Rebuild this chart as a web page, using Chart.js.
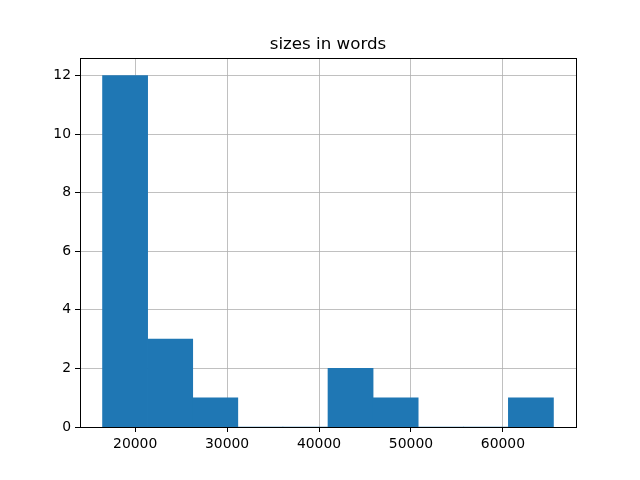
<!DOCTYPE html>
<html>
<head>
<meta charset="utf-8">
<script src="https://cdn.jsdelivr.net/npm/chart.js@4/dist/chart.umd.min.js"></script>
<style>
  html, body { margin: 0; padding: 0; background: #fff; }
  #wrap { width: 640px; height: 480px; }
</style>
</head>
<body>
<div id="wrap"><canvas id="hist" width="640" height="480"></canvas></div>
<script>
// histogram of document sizes
const binEdges = [16450, 21355, 26260, 31165, 36070, 40975, 45880, 50785, 55690, 60595, 65500];
const counts = [12, 3, 1, 0, 0, 2, 1, 0, 0, 1];
const xTicks = [20000, 30000, 40000, 50000, 60000];
const yTicks = [0, 2, 4, 6, 8, 10, 12];
const titleText = "sizes in words";

const barData = counts.map((c, i) => ({ x: (binEdges[i] + binEdges[i + 1]) / 2, y: c }));

const span = binEdges[binEdges.length - 1] - binEdges[0];
const xMin = binEdges[0] - span * 0.05;
const xMax = binEdges[binEdges.length - 1] + span * 0.05;
const yMax = Math.max(...counts) * 1.05;

const tickFont = { family: "DejaVu Sans", size: 13.9 };

// black frame around the plot area, like the axes spines
const frame = {
  id: "frame",
  afterDraw(chart) {
    const a = chart.chartArea;
    const ctx = chart.ctx;
    ctx.save();
    ctx.strokeStyle = "#000";
    ctx.lineWidth = 1;
    ctx.strokeRect(Math.round(a.left) + 0.5, Math.round(a.top) + 0.5,
      Math.round(a.right - a.left), Math.round(a.bottom - a.top));
    ctx.restore();
  }
};

new Chart(document.getElementById("hist").getContext("2d"), {
  type: "bar",
  data: {
    datasets: [{
      data: barData,
      backgroundColor: "#1f77b4",
      borderWidth: 0,
      barPercentage: 1,
      categoryPercentage: 1,
      grouped: false
    }]
  },
  options: {
    responsive: false,
    animation: false,
    layout: { padding: { left: 0, right: 64, top: 0, bottom: 0 } },
    plugins: {
      legend: { display: false },
      tooltip: { enabled: false },
      title: {
        display: true,
        fullSize: false,
        text: titleText,
        color: "#000",
        font: { family: "DejaVu Sans", size: 16.7, weight: "normal" },
        padding: { top: 35, bottom: 3 }
      }
    },
    scales: {
      x: {
        type: "linear",
        min: xMin,
        max: xMax,
        z: 1,
        offset: false,
        border: { display: false },
        grid: { offset: false, color: "#b0b0b0", lineWidth: 0.8, tickColor: "#000", tickLength: 5, tickWidth: 1 },
        ticks: {
          color: "#000",
          font: tickFont,
          padding: 4,
          maxRotation: 0,
          callback: v => String(v)
        },
        afterBuildTicks: s => { s.ticks = xTicks.map(v => ({ value: v })); },
        afterFit: s => { s.height = 53; }
      },
      y: {
        min: 0,
        max: yMax,
        z: 1,
        border: { display: false },
        grid: { color: "#b0b0b0", lineWidth: 0.8, tickColor: "#000", tickLength: 5, tickWidth: 1 },
        ticks: {
          color: "#000",
          font: tickFont,
          padding: 4,
          callback: v => String(v)
        },
        afterBuildTicks: s => { s.ticks = yTicks.map(v => ({ value: v })); },
        afterFit: s => { s.width = 80; }
      }
    }
  },
  plugins: [frame]
});
</script>
</body>
</html>
